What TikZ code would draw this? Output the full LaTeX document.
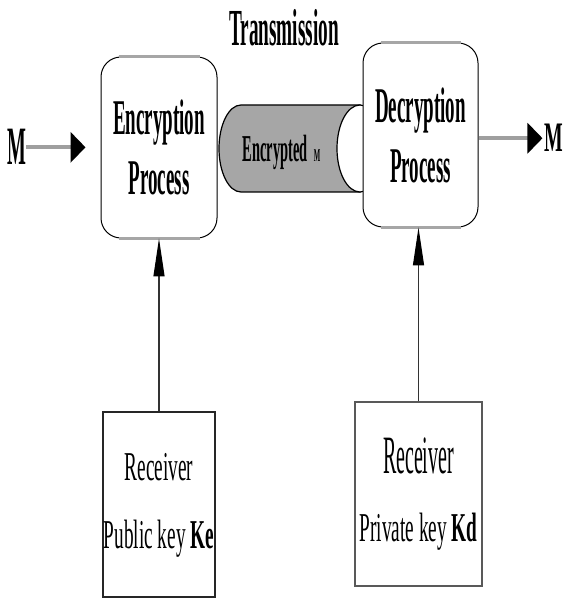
\documentclass[tikz,border=0pt]{standalone}
\usepackage{fontspec}
\setmainfont{Liberation Serif}
\newfontfamily\narrowfont[FakeStretch=0.38]{Liberation Serif}
\newfontfamily\tallfont[FakeStretch=0.37]{Liberation Serif}
\newfontfamily\keyfont[FakeStretch=0.47]{Liberation Serif}
\usetikzlibrary{arrows.meta, positioning}
\tikzset{
    process/.style={rectangle, draw, line width=1pt, rounded corners=20pt, fill=white, align=center, inner sep=0pt,
        font=\narrowfont\bfseries\fontsize{50}{60}\selectfont},
    keybox/.style={rectangle, draw=black!85, line width=2pt, fill=white, align=center, inner sep=0pt,
        font=\keyfont\fontsize{41}{68}\selectfont},
    rim/.style={line width=3.5pt, gray!70},
    pipebody/.style={draw, line width=1.2pt, fill=gray!70},
    pipeend/.style={draw, line width=1.2pt, fill=white},
    flow/.style={line width=4pt, gray!75, -{Triangle[length=15pt, width=30pt, color=black]}},
    keyarrow/.style={line width=1.2pt, black!80, -{Triangle[length=38pt, width=11pt, color=black]}}
}
\begin{document}
\begin{tikzpicture}[x=1pt, y=1pt]
    \useasboundingbox (0,0) rectangle (565,598);
    % transmission pipe
    \path[pipebody] (241,406) arc[start angle=270, end angle=90, x radius=22, y radius=43.5]
        -- (360,493) -- (360,406) -- cycle;
    \path[pipeend] (360,449.5) ellipse[x radius=23, y radius=43.5];
    \node[process, minimum width=116pt, minimum height=181pt] (enc) at (159,450.5) {Encryption\\Process};
    \node[process, minimum width=115pt, minimum height=184pt] (dec) at (420.5,463) {Decryption\\Process};
    \draw[rim] ([xshift=18pt]enc.north west) -- ([xshift=-18pt]enc.north east);
    \draw[rim] ([xshift=18pt]enc.south west) -- ([xshift=-18pt]enc.south east);
    \draw[rim] ([xshift=18pt]dec.north west) -- ([xshift=-18pt]dec.north east);
    \draw[rim] ([xshift=18pt]dec.south west) -- ([xshift=-18pt]dec.south east);
    \node[anchor=base, inner sep=0pt, font=\narrowfont\bfseries\fontsize{38}{40}\selectfont] (pipetext) at (281.5,436)
        {Encrypted\,{\fontsize{18}{20}\selectfont M}};
    \node[anchor=base, inner sep=0pt, font=\tallfont\bfseries\fontsize{52}{60}\selectfont] (trans) at (284,552) {Transmission};

    \node[anchor=base, inner sep=0pt, font=\tallfont\bfseries\fontsize{54}{60}\selectfont] (min) at (16.5,433) {M};
    \node[anchor=base, inner sep=0pt, font=\keyfont\bfseries\fontsize{42}{50}\selectfont] (mout) at (554,446) {M};
    \draw[flow, shorten >=15pt] (min.east) -- (min.east -| enc.west);
    \draw[flow, shorten >=2pt] (dec.east |- mout.west) -- (mout.west);

    \node[keybox, minimum width=112pt, minimum height=185pt] (pub) at (159,93)
        {Receiver\\Public key \textbf{Ke}};
    \node[keybox, draw=gray!70!black, minimum width=127pt, minimum height=184pt] (prv) at (418.5,104)
        {{\tallfont\fontsize{54}{62}\selectfont Receiver}\\Private key \textbf{Kd}};
    \draw[keyarrow] (pub.north) -- (enc.south);
    \draw[keyarrow] (prv.north) -- (prv.north |- dec.south);
\end{tikzpicture}
\end{document}
